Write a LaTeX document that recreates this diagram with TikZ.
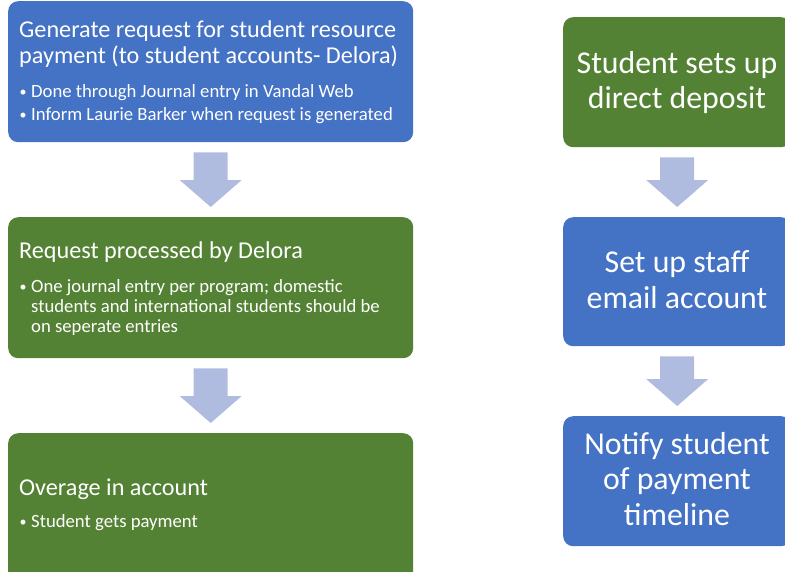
\documentclass[tikz,border=0pt]{standalone}
\usepackage{fontspec}
\setmainfont{Carlito}
\usetikzlibrary{calc}
\definecolor{bboxc}{HTML}{4472C4}
\definecolor{gboxc}{HTML}{548235}
\definecolor{afillc}{RGB}{176,188,223}
\newcommand{\flowarrow}[2]{%
  \fill[arrowfill] ($(#1.south)+(-17,10)$) -- ($(#1.south)+(17,10)$)
    -- ($(#2.north)+(17,-37)$) -- ($(#2.north)+(31,-37)$)
    -- ($(#2.north)+(0,-10)$) -- ($(#2.north)+(-31,-37)$)
    -- ($(#2.north)+(-17,-37)$) -- cycle;}
\begin{document}
\begin{tikzpicture}[x=1pt,y=-1pt,
  boxbase/.style={rounded corners=10pt, inner sep=0pt, anchor=north west},
  bluebox/.style={boxbase, fill=bboxc},
  greenbox/.style={boxbase, fill=gboxc},
  titletext/.style={text=white, font=\fontsize{24.2}{25.5}\selectfont, anchor=base west, inner sep=0pt, align=left},
  bultext/.style={text=white, font=\fontsize{18.7}{20}\selectfont, anchor=base west, inner sep=0pt, align=left},
  bulletmark/.style={text=white, font=\fontsize{14}{14}\selectfont, anchor=base, inner sep=0pt},
  bigtext/.style={text=white, font=\fontsize{31.8}{35.5}\selectfont, anchor=base, inner sep=0pt, align=center},
  arrowfill/.style={fill=afillc}]
\useasboundingbox (0,0) rectangle (785,571);
\clip (0,0) rectangle (785,571);
% left column
\node[bluebox, minimum width=405pt, minimum height=141pt] (L1) at (8,1) {};
\node[greenbox, minimum width=405pt, minimum height=141pt] (L2) at (8,217) {};
\node[greenbox, minimum width=405pt, minimum height=150pt] (L3) at (8,433) {};
% right column
\node[greenbox, minimum width=228pt, minimum height=130pt] (R1) at (563,17) {};
\node[bluebox, minimum width=228pt, minimum height=129pt] (R2) at (563,217) {};
\node[bluebox, minimum width=228pt, minimum height=130pt] (R3) at (563,416) {};
% arrows
\flowarrow{L1}{L2}
\flowarrow{L2}{L3}
\flowarrow{R1}{R2}
\flowarrow{R2}{R3}
% texts left (multi-line nodes: base = last line)
\node[titletext] (L1t) at (19,63) {Generate request for student resource\\payment (to student accounts- Delora)};
\node[bulletmark] (L1b1) at (23,96) {•};
\node[bultext] (L1x1) at (31,97) {Done through Journal entry in Vandal Web};
\node[bulletmark] (L1b2) at (23,119) {•};
\node[bultext] (L1x2) at (31,120) {Inform Laurie Barker when request is generated};
\node[titletext] (L2t) at (19,258) {Request processed by Delora};
\node[bulletmark] (L2b1) at (23,291) {•};
\node[bultext] (L2x1) at (31,332) {One journal entry per program; domestic\\students and international students should be\\on seperate entries};
\node[titletext] (L3t) at (19,495) {Overage in account};
\node[bulletmark] (L3b1) at (23,526) {•};
\node[bultext] (L3x1) at (31,527) {Student gets payment};
% texts right
\node[bigtext] (R1t) at (677,108.5) {Student sets up\\direct deposit};
\node[bigtext] (R2t) at (677,308) {Set up staff\\email account};
\node[bigtext] (R3t) at (677,525) {Notify student\\of payment\\timeline};
\end{tikzpicture}
\end{document}
